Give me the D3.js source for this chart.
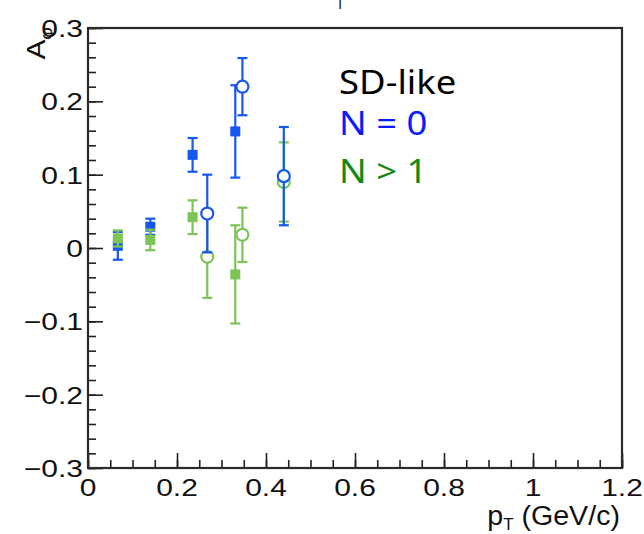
<!DOCTYPE html>
<html>
<head>
<meta charset="utf-8">
<script src="https://cdn.jsdelivr.net/npm/d3@7"></script>
<style>
  body { margin: 0; background: #fff; }
</style>
</head>
<body>
<div id="chart"></div>
<script>
// data
var ptFilled = [0.067, 0.14, 0.235, 0.331];
var ptOpen = [0.268, 0.347, 0.44];

var blueFilled = [0.003, 0.029, 0.127, 0.159];
var blueFilledErr = [0.019, 0.011, 0.023, 0.063];
var blueOpen = [0.047, 0.22, 0.098];
var blueOpenErr = [0.053, 0.039, 0.067];

var greenFilled = [0.013, 0.011, 0.042, -0.036];
var greenFilledErr = [0.011, 0.014, 0.023, 0.067];
var greenOpen = [-0.012, 0.018, 0.09];
var greenOpenErr = [0.056, 0.037, 0.054];

var xTicks = [0, 0.2, 0.4, 0.6, 0.8, 1, 1.2];
var yTicks = [-0.3, -0.2, -0.1, 0, 0.1, 0.2, 0.3];
var legendLines = ["SD-like", "N = 0", "N > 1"];

var svgWidth = 644;
var svgHeight = 534;
var margin = { top: 28, right: 22, bottom: 66, left: 88 };
var width = svgWidth - margin.left - margin.right;
var height = svgHeight - margin.top - margin.bottom;

var blue = "#1656f2";
var green = "#7cc456";
var stretch = 1.25; // the labels look widened in the picture

var svg = d3.select("#chart")
  .append("svg")
  .attr("width", svgWidth)
  .attr("height", svgHeight);

var chartGroup = svg.append("g")
  .attr("transform", `translate(${margin.left}, ${margin.top})`);

var x = d3.scaleLinear().domain([0, 1.2]).range([0, width]);
var y = d3.scaleLinear().domain([-0.3, 0.3]).range([height, 0]);

var fmt = d => d3.format("~g")(+d.toFixed(3));

// minor ticks
chartGroup.append("g")
  .attr("transform", `translate(0, ${height})`)
  .call(d3.axisBottom(x).tickValues(d3.range(0, 1.2001, 0.05)).tickSizeInner(-8).tickSizeOuter(0).tickFormat(""));
chartGroup.append("g")
  .call(d3.axisLeft(y).tickValues(d3.range(-0.3, 0.3001, 0.02)).tickSizeInner(-8).tickSizeOuter(0).tickFormat(""));
// major ticks
chartGroup.append("g")
  .attr("transform", `translate(0, ${height})`)
  .call(d3.axisBottom(x).tickValues(xTicks).tickSizeInner(-15).tickSizeOuter(0).tickFormat(""));
chartGroup.append("g")
  .call(d3.axisLeft(y).tickValues(yTicks).tickSizeInner(-15).tickSizeOuter(0).tickFormat(""));

chartGroup.selectAll(".tick line").attr("stroke", "#222").attr("stroke-width", 1.6);
chartGroup.selectAll(".domain").remove();

// frame
chartGroup.append("rect")
  .attr("x", 0).attr("y", 0)
  .attr("width", width).attr("height", height)
  .attr("fill", "none")
  .attr("stroke", "#2a2a2a")
  .attr("stroke-width", 2.2);

// tick labels
chartGroup.selectAll(".xlab")
  .data(xTicks)
  .enter()
  .append("text")
  .attr("transform", d => `translate(${x(d)}, ${height + 28}) scale(${stretch},1)`)
  .attr("text-anchor", "middle")
  .attr("font-family", "Liberation Sans, Arial, sans-serif")
  .style("font-size", "24px")
  .attr("fill", "#111")
  .text(fmt);

chartGroup.selectAll(".ylab")
  .data(yTicks)
  .enter()
  .append("text")
  .attr("transform", d => `translate(-5, ${y(d) + 9}) scale(${stretch},1)`)
  .attr("text-anchor", "end")
  .attr("font-family", "Liberation Sans, Arial, sans-serif")
  .style("font-size", "24px")
  .attr("fill", "#111")
  .text(fmt);

// axis titles
var xTitle = chartGroup.append("text")
  .attr("transform", `translate(${width - 2}, ${height + 57}) scale(1.06,1)`)
  .attr("text-anchor", "end")
  .attr("font-family", "Liberation Sans, Arial, sans-serif")
  .style("font-size", "27px")
  .attr("fill", "#111");
xTitle.append("tspan").text("p");
xTitle.append("tspan").attr("dy", 5).style("font-size", "16px").text("T");
xTitle.append("tspan").attr("dy", -5).text(" (GeV/c)");

var yTitle = svg.append("text")
  .attr("transform", "translate(45, 27) rotate(-90) scale(1.15,1)")
  .attr("text-anchor", "end")
  .attr("font-family", "Liberation Sans, Arial, sans-serif")
  .style("font-size", "26px")
  .attr("fill", "#111");
yTitle.append("tspan").text("A");
yTitle.append("tspan").attr("dy", 7).style("font-size", "17px").text("φ");

// cut-off title, only its lower end shows
svg.append("text")
  .attr("x", 340).attr("y", 6)
  .attr("text-anchor", "middle")
  .attr("font-family", "Liberation Sans, Arial, sans-serif")
  .style("font-size", "16px")
  .attr("fill", "#111")
  .text("|");

// error bar series
function drawSeries(xs, ys, errs, color, open) {
  var pts = xs.map((v, i) => ({ x: v, y: ys[i], e: errs[i] }));
  var g = chartGroup.append("g");
  var cap = 5;
  g.selectAll(".bar").data(pts).enter().append("line")
    .attr("x1", d => x(d.x)).attr("x2", d => x(d.x))
    .attr("y1", d => y(d.y - d.e)).attr("y2", d => y(d.y + d.e))
    .attr("stroke", color).attr("stroke-width", 2.2);
  g.selectAll(".capTop").data(pts).enter().append("line")
    .attr("x1", d => x(d.x) - cap).attr("x2", d => x(d.x) + cap)
    .attr("y1", d => y(d.y + d.e)).attr("y2", d => y(d.y + d.e))
    .attr("stroke", color).attr("stroke-width", 2.2);
  g.selectAll(".capBot").data(pts).enter().append("line")
    .attr("x1", d => x(d.x) - cap).attr("x2", d => x(d.x) + cap)
    .attr("y1", d => y(d.y - d.e)).attr("y2", d => y(d.y - d.e))
    .attr("stroke", color).attr("stroke-width", 2.2);
  if (open) {
    g.selectAll("circle").data(pts).enter().append("circle")
      .attr("cx", d => x(d.x)).attr("cy", d => y(d.y))
      .attr("r", 6)
      .attr("fill", "#fff")
      .attr("stroke", color)
      .attr("stroke-width", 2.2);
  } else {
    g.selectAll("rect").data(pts).enter().append("rect")
      .attr("x", d => x(d.x) - 5).attr("y", d => y(d.y) - 5)
      .attr("width", 10).attr("height", 10)
      .attr("fill", color);
  }
}

drawSeries(ptFilled, blueFilled, blueFilledErr, blue, false);
drawSeries(ptFilled, greenFilled, greenFilledErr, green, false);
drawSeries(ptOpen, greenOpen, greenOpenErr, green, true);
drawSeries(ptOpen, blueOpen, blueOpenErr, blue, true);

// legend text
var legendColors = ["#000", "#0a1cff", "#118a11"];
var legendY = [94, 135, 183];
svg.selectAll(".legend")
  .data(legendLines)
  .enter()
  .append("text")
  .attr("transform", (d, i) => `translate(339, ${legendY[i]}) scale(1.14,1)`)
  .attr("font-family", "Noto Sans, sans-serif")
  .style("font-size", "32px")
  .attr("fill", (d, i) => legendColors[i])
  .text(d => d);
</script>
</body>
</html>
